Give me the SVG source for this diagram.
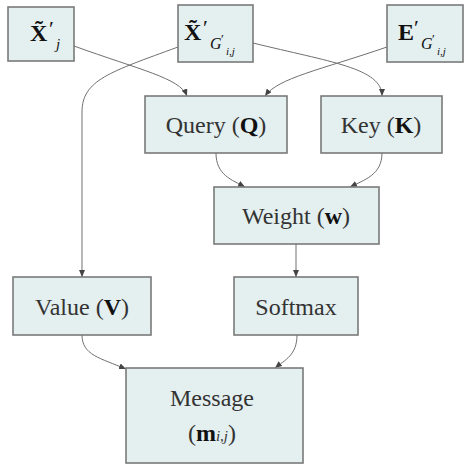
<svg xmlns="http://www.w3.org/2000/svg" width="470" height="468" viewBox="0 0 470 468">
<defs>
<marker id="arr" markerWidth="8" markerHeight="6" refX="7" refY="3" orient="auto" markerUnits="userSpaceOnUse">
<path d="M0,0 L7,3 L0,6 z" fill="#444"/>
</marker>
<style>
.box{fill:#e4eff0;stroke:#7a7a7a;stroke-width:1.6}
.t{font-family:"Liberation Serif","Times New Roman",serif;font-size:24px;fill:#333;text-anchor:middle}
.m{font-family:"Liberation Serif","Times New Roman",serif;fill:#111}
.b{font-weight:bold;fill:#111}
.c{fill:none;stroke:#707070;stroke-width:1}
</style>
</defs>
<rect width="470" height="468" fill="#fff"/>
<g id="connectors">
<path class="c" marker-end="url(#arr)" d="M74,46 C140,70 180,78 187,96"/>
<path class="c" marker-end="url(#arr)" d="M178,47 C110,72 82,80 82,112 L82,277"/>
<path class="c" marker-end="url(#arr)" d="M253,43 C330,62 382,68 382,96"/>
<path class="c" marker-end="url(#arr)" d="M387,47 C320,70 278,78 265,96"/>
<path class="c" marker-end="url(#arr)" d="M216,153 C216,175 232,180 245,187"/>
<path class="c" marker-end="url(#arr)" d="M382,153 C382,175 364,180 350,187"/>
<path class="c" marker-end="url(#arr)" d="M296,244 L296,277"/>
<path class="c" marker-end="url(#arr)" d="M82,335 C82,355 100,358 126,369"/>
<path class="c" marker-end="url(#arr)" d="M297,335 C297,355 285,360 275,368"/>
</g>
<g id="xj">
<rect class="box" x="8" y="7" width="66" height="54"/>
<text class="m"><tspan x="30" y="41" font-size="24" font-weight="bold">X&#x303;</tspan><tspan x="49" y="36" font-size="22">′</tspan><tspan x="56" y="49" font-size="15" font-style="italic">j</tspan></text>
</g>
<g id="xg">
<rect class="box" x="178" y="5" width="75" height="57"/>
<text class="m"><tspan x="184" y="40" font-size="24" font-weight="bold">X&#x303;</tspan><tspan x="203" y="35" font-size="22">′</tspan><tspan x="210" y="49" font-size="16" font-style="italic">G</tspan><tspan x="221" y="43" font-size="13">′</tspan><tspan x="226" y="55" font-size="11" font-style="italic">i,j</tspan></text>
</g>
<g id="eg">
<rect class="box" x="387" y="5" width="76" height="57"/>
<text class="m"><tspan x="398" y="40" font-size="24" font-weight="bold">E</tspan><tspan x="414" y="35" font-size="22">′</tspan><tspan x="421" y="49" font-size="16" font-style="italic">G</tspan><tspan x="432" y="43" font-size="13">′</tspan><tspan x="437" y="55" font-size="11" font-style="italic">i,j</tspan></text>
</g>
<g id="query">
<rect class="box" x="145" y="96" width="142" height="57"/>
<text class="t" x="216" y="133">Query (<tspan class="b">Q</tspan>)</text>
</g>
<g id="key">
<rect class="box" x="321" y="96" width="121" height="57"/>
<text class="t" x="381" y="133">Key (<tspan class="b">K</tspan>)</text>
</g>
<g id="weight">
<rect class="box" x="214" y="187" width="165" height="57"/>
<text class="t" x="296" y="224">Weight (<tspan class="b">w</tspan>)</text>
</g>
<g id="value">
<rect class="box" x="13" y="277" width="138" height="58"/>
<text class="t" x="82" y="315">Value (<tspan class="b">V</tspan>)</text>
</g>
<g id="softmax">
<rect class="box" x="234" y="277" width="124" height="58"/>
<text class="t" x="296" y="315">Softmax</text>
</g>
<g id="message">
<rect class="box" x="126" y="368" width="177" height="95"/>
<text class="t" x="212" y="406">Message</text>
<text class="t" x="212" y="441">(<tspan class="b">m</tspan><tspan font-style="italic" font-size="15">i,j</tspan>)</text>
</g>
</svg>
